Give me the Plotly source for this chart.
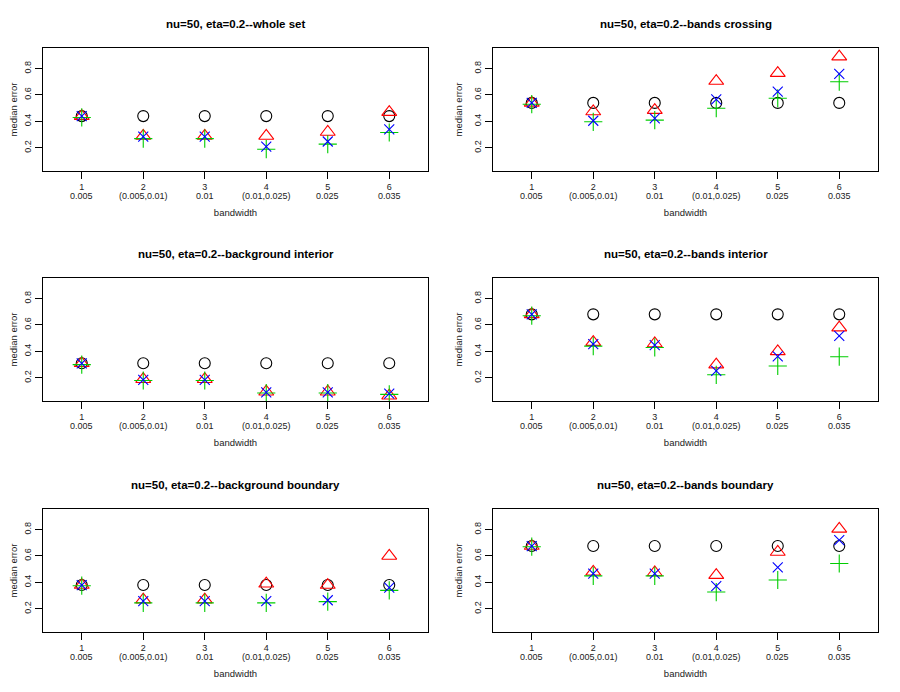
import plotly.graph_objects as go

bandwidth_idx = [1, 2, 3, 4, 5, 6]
bandwidth_labels = ["0.005", "(0.005,0.01)", "0.01", "(0.01,0.025)", "0.025", "0.035"]

titles = [
    "nu=50, eta=0.2--whole set",
    "nu=50, eta=0.2--bands crossing",
    "nu=50, eta=0.2--background interior",
    "nu=50, eta=0.2--bands interior",
    "nu=50, eta=0.2--background boundary",
    "nu=50, eta=0.2--bands boundary",
]

# median error per method (black circle, red triangle, green plus, blue x)
black_vals = [
    [0.44, 0.44, 0.44, 0.44, 0.44, 0.44],
    [0.54, 0.54, 0.54, 0.54, 0.54, 0.54],
    [0.31, 0.31, 0.31, 0.31, 0.31, 0.31],
    [0.68, 0.68, 0.68, 0.68, 0.68, 0.68],
    [0.38, 0.38, 0.38, 0.38, 0.38, 0.38],
    [0.675, 0.675, 0.675, 0.675, 0.675, 0.675],
]
red_vals = [
    [0.44, 0.29, 0.29, 0.29, 0.32, 0.47],
    [0.54, 0.475, 0.485, 0.705, 0.765, 0.89],
    [0.31, 0.19, 0.19, 0.095, 0.095, 0.065],
    [0.68, 0.47, 0.46, 0.30, 0.40, 0.58],
    [0.38, 0.27, 0.27, 0.39, 0.38, 0.60],
    [0.675, 0.48, 0.475, 0.455, 0.63, 0.805],
]
green_vals = [
    [0.43, 0.27, 0.27, 0.19, 0.228, 0.316],
    [0.53, 0.397, 0.41, 0.50, 0.575, 0.70],
    [0.30, 0.18, 0.18, 0.085, 0.085, 0.075],
    [0.67, 0.44, 0.43, 0.223, 0.29, 0.36],
    [0.375, 0.245, 0.245, 0.245, 0.255, 0.34],
    [0.67, 0.449, 0.449, 0.327, 0.418, 0.543],
]
blue_vals = [
    [0.44, 0.285, 0.285, 0.21, 0.248, 0.34],
    [0.54, 0.405, 0.423, 0.567, 0.625, 0.76],
    [0.31, 0.185, 0.185, 0.09, 0.09, 0.08],
    [0.68, 0.455, 0.447, 0.253, 0.362, 0.518],
    [0.38, 0.258, 0.258, 0.258, 0.265, 0.36],
    [0.675, 0.467, 0.467, 0.372, 0.513, 0.72],
]

series = [
    (black_vals, "circle-open", "black", 11),
    (red_vals, "triangle-up-open", "#FF0000", 13),
    (green_vals, "cross-thin-open", "#00CD00", 13),
    (blue_vals, "x-thin-open", "#0000FF", 10),
]

# page body has an 8px margin, so the figure is 8px smaller and boxes shift by 8
OFF = 8
W, H = 900 - OFF, 692 - OFF
box_x = [(43 - OFF, 428 - OFF), (493 - OFF, 878 - OFF)]
box_y = [(48 - OFF, 171 - OFF), (278 - OFF, 401 - OFF), (509 - OFF, 632 - OFF)]

font = "Liberation Sans, Arial, Helvetica, sans-serif"
fig = go.Figure()
annotations = []

for p in range(6):
    r, c = divmod(p, 2)
    n = "" if p == 0 else str(p + 1)
    xa, ya = "x" + n, "y" + n
    for vals, sym, col, size in series:
        fig.add_trace(go.Scatter(
            x=bandwidth_idx, y=vals[p], mode="markers", xaxis=xa, yaxis=ya,
            marker=dict(symbol=sym, size=size, color=col, line=dict(color=col, width=1.1)),
            showlegend=False, cliponaxis=True,
        ))
    x0, x1 = box_x[c]
    y0, y1 = box_y[r]
    common = dict(showgrid=False, zeroline=False, showline=True, mirror=True,
                  linecolor="black", linewidth=1, ticks="outside", ticklen=7,
                  tickcolor="black", tickfont=dict(size=9, color="#222", family=font))
    fig.layout["xaxis" + n] = dict(
        domain=[x0 / W, x1 / W], range=[0.37, 6.63], anchor=ya,
        tickvals=bandwidth_idx, ticktext=[str(i) for i in bandwidth_idx],
        title=dict(text="bandwidth", font=dict(size=9.5, family=font, color="#222"), standoff=18),
        **common)
    fig.layout["yaxis" + n] = dict(
        domain=[1 - y1 / H, 1 - y0 / H], range=[0.025, 0.955], anchor=xa,
        tickvals=[0.2, 0.4, 0.6, 0.8], ticktext=["0.2", "0.4", "0.6", "0.8"], tickangle=-90,
        title=dict(text="median error", font=dict(size=9.5, family=font, color="#222"), standoff=9),
        **common)
    annotations.append(dict(
        text="<b>" + titles[p] + "</b>", xref=xa + " domain", yref=ya + " domain",
        x=0.5, y=1, yshift=24, yanchor="middle", showarrow=False,
        font=dict(size=11.5, family=font, color="black")))
    for i, lab in zip(bandwidth_idx, bandwidth_labels):
        annotations.append(dict(
            text=lab, xref=xa, yref=ya + " domain", x=i, y=0, yshift=-24.5,
            yanchor="middle", showarrow=False,
            font=dict(size=9, family=font, color="#222")))

fig.update_layout(
    width=W, height=H, margin=dict(l=0, r=0, t=0, b=0),
    paper_bgcolor="white", plot_bgcolor="white",
    annotations=annotations, showlegend=False,
)

fig.write_html("out.html")
